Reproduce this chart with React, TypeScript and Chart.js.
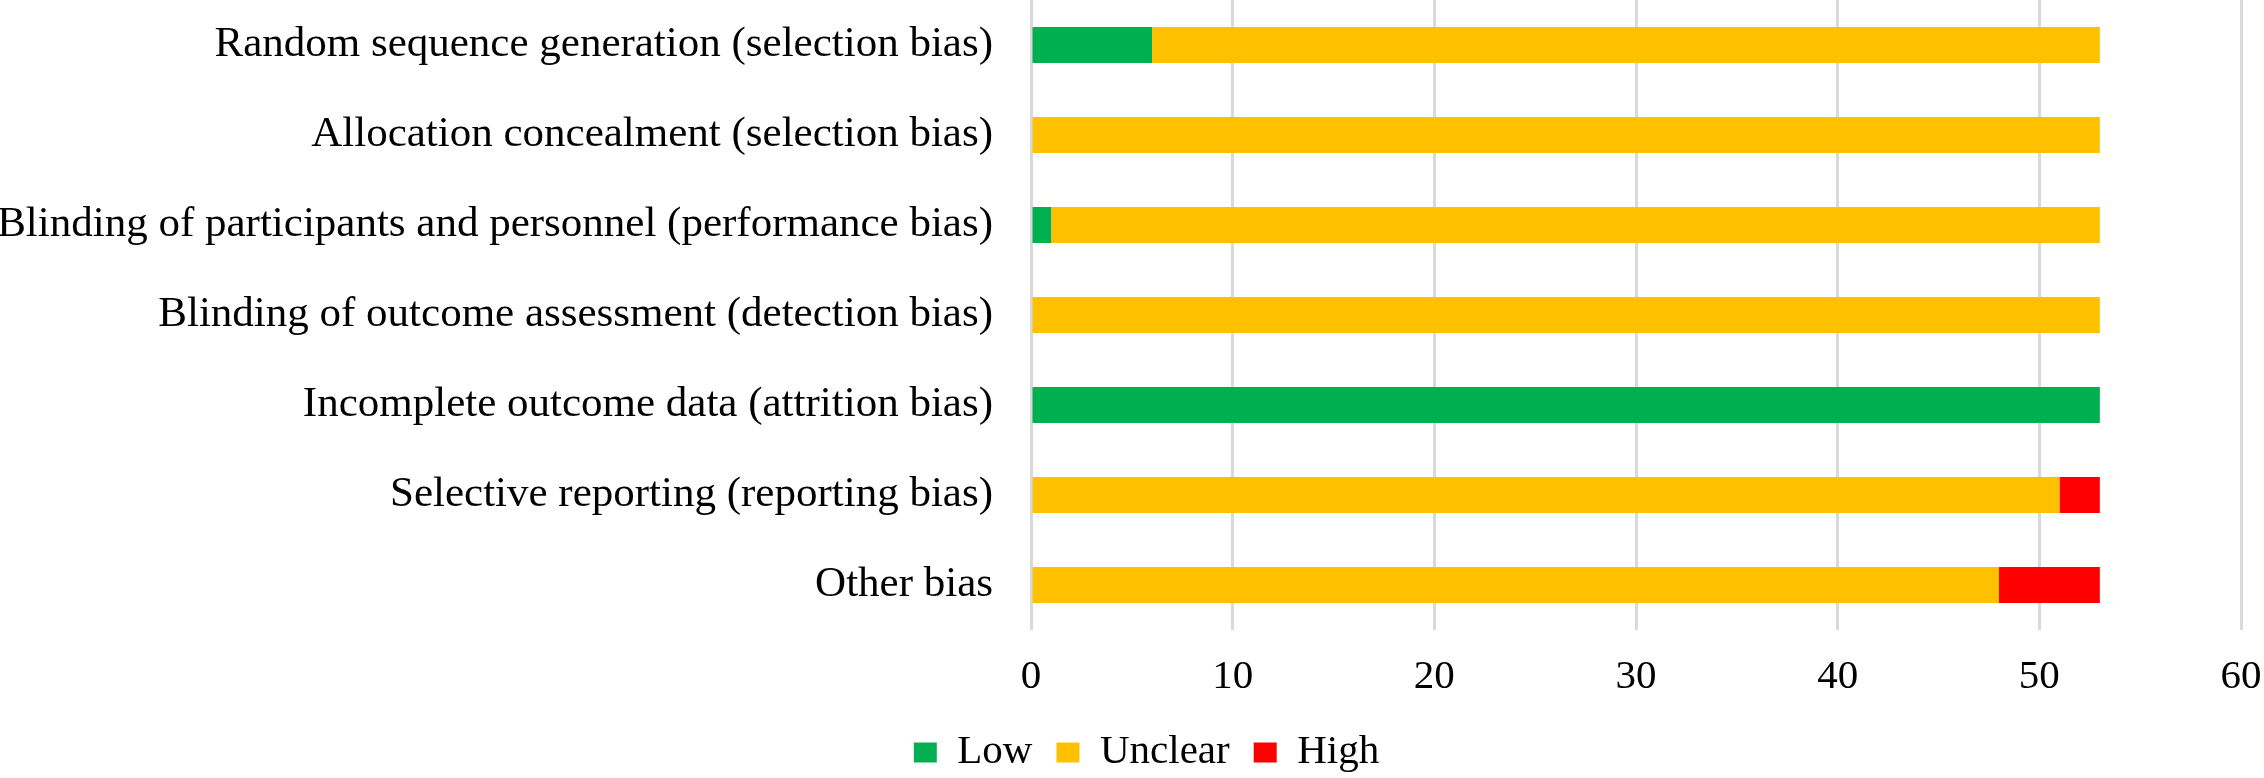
import React, { useEffect, useRef } from "react";
import { Chart, registerables } from "chart.js";

Chart.register(...registerables);

const categories = [
  "Random sequence generation (selection bias)",
  "Allocation concealment (selection bias)",
  "Blinding of participants and personnel (performance bias)",
  "Blinding of outcome assessment (detection bias)",
  "Incomplete outcome data (attrition bias)",
  "Selective reporting (reporting bias)",
  "Other bias",
];

const lowValues = [6, 0, 1, 0, 53, 0, 0];
const unclearValues = [47, 53, 52, 53, 0, 51, 48];
const highValues = [0, 0, 0, 0, 0, 2, 5];

const seriesNames = ["Low", "Unclear", "High"];
const seriesColors = ["#00B050", "#FFC000", "#FF0000"];

const xMin = 0;
const xMax = 60;
const xStep = 10;

const FONT = "'Liberation Serif', 'Times New Roman', serif";

const legendShift = {
  id: "legendShift",
  afterLayout(chart: any) {
    const lg = chart.legend;
    if (lg) {
      lg.left += 52;
      lg.top += 5;
      lg.bottom += 5;
    }
  },
};

export default function App() {
  const canvasRef = useRef<HTMLCanvasElement | null>(null);

  useEffect(() => {
    if (!canvasRef.current) return;
    const values = [lowValues, unclearValues, highValues];
    const chart = new Chart(canvasRef.current, {
      type: "bar",
      data: {
        labels: categories,
        datasets: seriesNames.map((name, i) => ({
          label: name,
          data: values[i],
          backgroundColor: seriesColors[i],
          borderWidth: 0,
          categoryPercentage: 0.8,
          barPercentage: 0.5,
        })),
      },
      plugins: [legendShift],
      options: {
        indexAxis: "y",
        animation: false,
        responsive: true,
        maintainAspectRatio: false,
        devicePixelRatio: 1,
        layout: { padding: { left: 0, right: 23, top: 0, bottom: 0 } },
        plugins: {
          tooltip: { enabled: false },
          legend: {
            position: "bottom",
            labels: {
              boxWidth: 23,
              boxHeight: 20,
              padding: 24,
              color: "#000",
              font: { family: FONT, size: 41 },
            },
          },
        },
        scales: {
          x: {
            stacked: true,
            min: xMin,
            max: xMax,
            ticks: {
              stepSize: xStep,
              padding: 17,
              color: "#000",
              font: { family: FONT, size: 41, lineHeight: "61px" },
            },
            grid: { color: "#D9D9D9", lineWidth: 3, drawTicks: false },
            border: { display: false },
            afterFit: (scale: any) => {
              scale.height = 73;
              scale.paddingLeft = 0;
              scale.paddingRight = 0;
              scale.paddingTop = 0;
              scale.paddingBottom = 0;
            },
          },
          y: {
            stacked: true,
            ticks: {
              padding: 38,
              color: "#000",
              font: { family: FONT, size: 43 },
            },
            grid: { display: false, drawTicks: false },
            border: { display: false },
            afterFit: (scale: any) => {
              scale.width = 1031;
              scale.paddingLeft = 0;
              scale.paddingRight = 0;
              scale.paddingTop = 0;
              scale.paddingBottom = 0;
            },
          },
        },
      },
    });
    return () => chart.destroy();
  }, []);

  return (
    <div style={{ position: "absolute", left: 0, top: 0, width: 2264, height: 778, background: "#fff" }}>
      <canvas ref={canvasRef} />
    </div>
  );
}
